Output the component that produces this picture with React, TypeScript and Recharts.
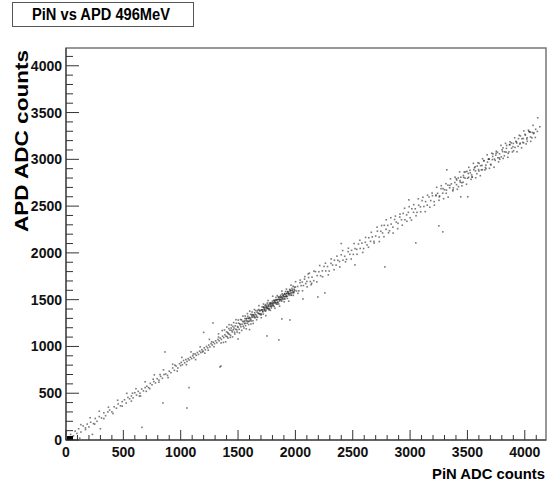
import React from 'react';
import {
  ScatterChart,
  Scatter,
  XAxis,
  YAxis,
  ReferenceArea,
} from 'recharts';

// PiN ADC counts vs APD ADC counts
const lowPoints: [number, number][] = [
  [40, 60], [65, 45], [80, 95], [95, 70], [110, 120], [130, 85], [150, 150], [170, 130],
  [185, 170], [200, 140], [215, 190], [240, 175], [255, 230], [270, 200], [290, 250],
  [310, 235], [330, 290], [345, 260], [365, 300], [380, 320], [400, 300], [420, 355],
  [440, 340], [455, 385], [475, 365], [490, 410], [120, 20], [230, 60], [300, 120],
  [510, 430], [525, 395], [540, 455], [555, 440], [570, 470], [585, 450], [600, 505],
  [615, 480], [630, 520], [645, 500], [660, 545], [675, 525], [690, 560], [705, 575],
  [720, 560], [735, 605], [750, 590], [765, 625], [780, 610], [795, 655], [810, 640],
  [825, 680], [840, 660], [855, 700], [870, 705], [885, 690], [900, 735], [915, 720],
  [930, 770], [945, 745], [960, 790], [975, 770], [990, 815], [1000, 795], [580, 500],
  [700, 520], [820, 700], [950, 800], [640, 470], [760, 650],
  [130, 164], [170, 111], [210, 238], [250, 170], [290, 307], [330, 229], [370, 351],
  [410, 283], [450, 425], [490, 362], [530, 499], [570, 416], [610, 548], [650, 470],
  [690, 622], [730, 549], [770, 696], [810, 618], [850, 750], [890, 667], [930, 809],
  [970, 736],
];

const risePoints: [number, number][] = [
  [1005, 830], [1015, 805], [1025, 850], [1035, 825], [1045, 860], [1055, 840], [1065, 870],
  [1075, 855], [1085, 885], [1095, 870], [1105, 900], [1115, 880], [1125, 920], [1135, 905],
  [1145, 935], [1155, 915], [1165, 950], [1175, 935], [1185, 965], [1195, 950], [1205, 985],
  [1215, 965], [1225, 1000], [1235, 985], [1245, 1015], [1255, 995], [1265, 1030],
  [1275, 1015], [1285, 1045], [1295, 1030], [1305, 1060], [1315, 1040], [1325, 1075],
  [1335, 1060], [1345, 1090], [1355, 1075], [1365, 1110], [1375, 1095], [1385, 1125],
  [1395, 1110], [1110, 920], [1190, 940], [1270, 1050], [1330, 1100], [1240, 960],
  [1010, 883], [1050, 805], [1090, 942], [1130, 859], [1170, 996], [1210, 928],
  [1250, 1075], [1290, 997], [1330, 1134],
];

const densePoints: [number, number][] = [
  [1400, 1155], [1405, 1104], [1410, 1148], [1415, 1137], [1420, 1191], [1425, 1130],
  [1430, 1174], [1435, 1118], [1440, 1197], [1445, 1171], [1450, 1155], [1455, 1214],
  [1460, 1178], [1465, 1197], [1470, 1151], [1475, 1220], [1480, 1184], [1485, 1248],
  [1490, 1177], [1495, 1213], [1500, 1205], [1505, 1249], [1510, 1183], [1515, 1242],
  [1520, 1231], [1525, 1210], [1530, 1284], [1535, 1238], [1540, 1267], [1545, 1216],
  [1550, 1265], [1555, 1244], [1560, 1298], [1565, 1222], [1570, 1276], [1575, 1300],
  [1580, 1249], [1585, 1323], [1590, 1267], [1595, 1299], [1600, 1310], [1605, 1279],
  [1610, 1343], [1615, 1272], [1620, 1316], [1625, 1340], [1630, 1274], [1635, 1333],
  [1640, 1322], [1645, 1361], [1650, 1310], [1655, 1384], [1660, 1333], [1665, 1367],
  [1670, 1311], [1675, 1355], [1680, 1394], [1685, 1348], [1690, 1379], [1695, 1341],
  [1700, 1350], [1705, 1389], [1710, 1423], [1715, 1372], [1720, 1346], [1725, 1420],
  [1730, 1399], [1735, 1438], [1740, 1377], [1745, 1426], [1750, 1410], [1755, 1464],
  [1760, 1403], [1765, 1432], [1770, 1391], [1775, 1465], [1780, 1429], [1785, 1463],
  [1790, 1412], [1795, 1454], [1800, 1485], [1805, 1444], [1810, 1468], [1815, 1427],
  [1820, 1491], [1825, 1470], [1830, 1524], [1835, 1453], [1840, 1497], [1845, 1471],
  [1850, 1530], [1855, 1454], [1860, 1503], [1865, 1532], [1870, 1501], [1875, 1530],
  [1880, 1484], [1885, 1563], [1890, 1502], [1895, 1538], [1900, 1530], [1905, 1564],
  [1910, 1508], [1915, 1587], [1920, 1536], [1925, 1565], [1930, 1514], [1935, 1583],
  [1940, 1567], [1945, 1546], [1950, 1610], [1955, 1569], [1960, 1598], [1965, 1547],
  [1970, 1621], [1975, 1575], [1980, 1644], [1985, 1573], [1990, 1612], [1995, 1599],
  [2000, 1635], [2010, 1593], [2020, 1641], [2030, 1594], [2040, 1682], [2050, 1650],
  [2060, 1688], [2070, 1651], [2080, 1719], [2090, 1672], [2100, 1695],
  [1652, 1342], [1662, 1317], [1672, 1385], [1682, 1353], [1692, 1387], [1702, 1339],
  [1712, 1391], [1722, 1421], [1732, 1383], [1742, 1447], [1752, 1415], [1762, 1447],
  [1772, 1401], [1782, 1453], [1792, 1427], [1802, 1459], [1812, 1495], [1822, 1461],
  [1832, 1497], [1842, 1453], [1852, 1505], [1862, 1485], [1872, 1547], [1882, 1517],
  [1892, 1549], [1902, 1507], [1912, 1555], [1922, 1537], [1932, 1587], [1942, 1563],
  [1952, 1591], [1962, 1551], [1972, 1597], [1982, 1583], [1992, 1633],
];

const coreExtra: [number, number][] = [
  [1556, 1272], [1564, 1248], [1572, 1295], [1580, 1271], [1588, 1301], [1596, 1268],
  [1604, 1304], [1612, 1291], [1620, 1335], [1628, 1313], [1636, 1338], [1644, 1308],
  [1708, 1391], [1716, 1372], [1724, 1414], [1728, 1391], [1736, 1412], [1744, 1390],
  [1748, 1431], [1756, 1410], [1764, 1430], [1768, 1407], [1776, 1450], [1784, 1436],
  [1788, 1467], [1796, 1436], [1804, 1466], [1808, 1437], [1816, 1484], [1824, 1472],
  [1828, 1497], [1836, 1470], [1844, 1500], [1848, 1473], [1856, 1524], [1864, 1498],
  [1868, 1521], [1876, 1498], [1884, 1528], [1888, 1513], [1896, 1550], [1904, 1532],
  [1908, 1563], [1916, 1532], [1924, 1564], [1928, 1537], [1936, 1578], [1944, 1560],
  [1956, 1600], [1964, 1572], [1976, 1604], [1988, 1587],
];

const denseWide: [number, number][] = [
  [1352, 1037], [1362, 1170], [1372, 1043], [1382, 1176], [1392, 1049], [1402, 1207],
  [1412, 1090], [1422, 1233], [1432, 1096], [1442, 1229], [1452, 1102], [1462, 1255],
  [1472, 1133], [1482, 1286], [1492, 1154], [1502, 1282], [1512, 1145], [1522, 1288],
  [1532, 1171], [1542, 1324], [1552, 1197], [1562, 1325], [1572, 1188], [1582, 1351],
  [1592, 1234], [1602, 1377], [1612, 1240], [1622, 1368], [1632, 1246], [1642, 1394],
  [1662, 1285], [1682, 1436], [1702, 1307], [1722, 1453], [1742, 1329], [1762, 1490],
  [1782, 1386], [1802, 1537], [1822, 1408], [1842, 1544], [1862, 1430], [1882, 1591],
  [1902, 1477], [1922, 1613], [1942, 1484], [1962, 1655], [1982, 1546], [2002, 1692],
  [2022, 1568], [2042, 1709], [2062, 1595], [2082, 1746], [2102, 1637], [2122, 1783],
  [2142, 1674],
];

const midPoints: [number, number][] = [
  [2115, 1737], [2130, 1694], [2145, 1741], [2160, 1703], [2175, 1800], [2190, 1757],
  [2205, 1799], [2220, 1756], [2235, 1808], [2250, 1855], [2265, 1807], [2280, 1854],
  [2295, 1806], [2310, 1888], [2325, 1870], [2340, 1922], [2355, 1869], [2370, 1921],
  [2385, 1908], [2400, 1980], [2415, 1922], [2430, 1964], [2445, 1931], [2460, 2013],
  [2475, 1985], [2490, 2027], [2505, 1984], [2520, 2046], [2535, 2038], [2550, 2095],
  [2565, 2047], [2580, 2104], [2595, 2046], [2610, 2113], [2625, 2085], [2640, 2162],
  [2655, 2124], [2670, 2171], [2685, 2123], [2700, 2180],
  [2112, 1775], [2137, 1660], [2162, 1805], [2187, 1690], [2212, 1865], [2237, 1745],
  [2262, 1890], [2287, 1765], [2312, 1935], [2337, 1820], [2362, 1965], [2387, 1850],
  [2412, 2025], [2437, 1905], [2462, 2050], [2487, 1935], [2512, 2100], [2537, 1985],
  [2562, 2135], [2587, 2005], [2612, 2165], [2637, 2060], [2662, 2220], [2687, 2105],
];

const highPoints: [number, number][] = [
  [2715, 2232], [2730, 2169], [2745, 2231], [2760, 2213], [2775, 2295], [2790, 2252],
  [2805, 2294], [2820, 2236], [2835, 2308], [2850, 2275], [2865, 2357], [2880, 2329],
  [2895, 2316], [2910, 2383], [2925, 2355], [2940, 2422], [2955, 2354], [2970, 2406],
  [2985, 2433], [3000, 2375], [3015, 2472], [3030, 2434], [3045, 2471], [3060, 2433],
  [3075, 2510], [3090, 2492], [3105, 2559], [3120, 2496], [3135, 2548], [3150, 2510],
  [3165, 2597], [3180, 2559], [3195, 2611], [3210, 2548], [3225, 2610], [3240, 2637],
  [3255, 2599], [3270, 2686], [3285, 2638], [3300, 2675], [3315, 2637], [3330, 2724],
  [3345, 2696], [3360, 2738], [3375, 2675], [3390, 2752], [3405, 2729], [3420, 2801],
  [3435, 2773], [3450, 2750], [3465, 2827], [3480, 2799], [3495, 2871], [3510, 2808],
  [3525, 2855], [3540, 2812], [3555, 2889], [3570, 2876], [3585, 2928], [3600, 2875],
  [3615, 2932], [3630, 2889], [3645, 2986], [3660, 2938], [3675, 2970], [3690, 3002],
  [3705, 2939], [3720, 3031], [3735, 3003], [3750, 3065], [3765, 3017], [3780, 3059],
  [3795, 3026], [3810, 3123], [3825, 3080], [3840, 3117], [3855, 3064], [3870, 3156],
  [3885, 3118], [3900, 3170], [3915, 3127], [3930, 3174], [3945, 3221], [3960, 3173],
  [3975, 3220], [3990, 3177], [4005, 3259], [4020, 3231], [4035, 3298], [4050, 3240],
  [4065, 3287], [4080, 3284], [4095, 3321], [4110, 3298],
  [3507, 2849], [3537, 2833], [3567, 2921], [3597, 2891], [3627, 2935], [3657, 2913],
  [3687, 3003], [3717, 2997], [3747, 3045], [3777, 3015], [3807, 3083], [3837, 3077],
  [3867, 3157], [3897, 3135], [3927, 3185], [3957, 3163], [3987, 3223], [4017, 3217],
  [4047, 3291], [4077, 3275], [3227, 2619], [3257, 2609], [3287, 2687], [3317, 2671],
  [3347, 2721], [3377, 2695], [3407, 2779], [3437, 2757], [3467, 2807],
];

const highWide: [number, number][] = [
  [2712, 2275], [2732, 2121], [2752, 2292], [2772, 2173], [2792, 2354], [2812, 2215],
  [2832, 2376], [2852, 2212], [2872, 2393], [2892, 2259], [2912, 2415], [2932, 2296],
  [2952, 2477], [2972, 2338], [2992, 2494], [3012, 2350], [3032, 2516], [3052, 2397],
  [3072, 2578], [3092, 2439], [3112, 2595], [3132, 2441], [3152, 2617], [3172, 2488],
  [3192, 2639], [3212, 2510], [3232, 2701], [3252, 2562], [3272, 2718], [3292, 2579],
  [3312, 2740], [3332, 2596], [3352, 2792], [3372, 2663], [3392, 2809], [3412, 2680],
  [3432, 2866], [3452, 2717], [3472, 2863], [3492, 2734], [3512, 2915], [3532, 2786],
  [3552, 2957], [3572, 2803], [3592, 2964], [3612, 2825], [3632, 3006], [3652, 2887],
  [3672, 3048], [3692, 2904], [3712, 3065], [3732, 2916], [3752, 3087], [3772, 2973],
  [3792, 3149], [3812, 3010], [3832, 3171], [3852, 3022], [3872, 3188], [3892, 3079],
  [3912, 3230], [3932, 3081], [3952, 3257], [3972, 3123], [3992, 3304], [4012, 3165],
  [4032, 3311], [4052, 3192], [4072, 3363], [4092, 3234],
  [3402, 2792], [3422, 2708], [3442, 2809], [3462, 2755], [3482, 2866], [3502, 2797],
  [3522, 2883], [3542, 2809], [3562, 2910], [3582, 2846], [3602, 2957], [3622, 2888],
  [3642, 2984], [3662, 2900], [3682, 3001], [3702, 2947], [3722, 3058], [3742, 2989],
  [3762, 3075], [3782, 3001], [3802, 3102], [3822, 3038], [3842, 3149], [3862, 3080],
  [3882, 3176], [3902, 3092], [3922, 3193], [3942, 3139], [3962, 3250], [3982, 3181],
  [4002, 3267], [4022, 3193], [4042, 3294], [4062, 3230],
];

const outliers: [number, number][] = [
  [1054, 342], [1072, 560], [863, 941], [662, 135], [1342, 781], [1281, 1251], [1752, 1112],
  [1856, 1070], [1351, 790], [1882, 1294], [1952, 1283], [2257, 1572], [2196, 1529],
  [2780, 1850], [2519, 1872], [2066, 1508], [3320, 2888], [2989, 2567], [3251, 2289],
  [3285, 2225], [3050, 2107], [3503, 2599], [3442, 2599], [4131, 3348], [4113, 3444],
  [845, 396], [1200, 1150], [1600, 1180], [2400, 2100], [1500, 1080],
];

// the overflow bin at the origin
const originBin: [number, number][] = [[0, 0]];

const majorTicks = [0, 500, 1000, 1500, 2000, 2500, 3000, 3500, 4000];
const minorTicks = Array.from({ length: 42 }, (_, i) => i * 100);

const X_MAX = 4185;
const Y_MAX = 4190;

const toData = (pts: [number, number][]) => pts.map(([pin, apd]) => ({ pin, apd }));

const events = toData([
  ...lowPoints,
  ...risePoints,
  ...densePoints,
  ...coreExtra,
  ...denseWide,
  ...midPoints,
  ...highPoints,
  ...highWide,
  ...outliers,
]);

const FONT = '"Liberation Sans", Arial, Helvetica, sans-serif';

const Dot = (props: any) => {
  const { cx, cy } = props;
  return <rect x={cx - 0.8} y={cy - 0.8} width={1.6} height={1.6} fill="#222" fillOpacity={0.6} />;
};

const BinSquare = (props: any) => {
  const { cx, cy } = props;
  return <rect x={cx + 1} y={cy - 4} width={6} height={4} fill="#000" />;
};

const XTick = (props: any) => {
  const { x, y, payload } = props;
  const major = majorTicks.includes(payload.value);
  return (
    <g>
      <line x1={x} y1={y} x2={x} y2={y - (major ? 10 : 5)} stroke="#333" />
      {major && (
        <text x={x} y={y + 17} textAnchor="middle" fontFamily={FONT} fontWeight="bold" fontSize={14} fill="#111">
          {payload.value}
        </text>
      )}
    </g>
  );
};

const YTick = (props: any) => {
  const { x, y, payload } = props;
  const major = majorTicks.includes(payload.value);
  return (
    <g>
      <line x1={x} y1={y} x2={x + (major ? 13 : 7)} y2={y} stroke="#333" />
      {major && (
        <text x={x - 4} y={y + 5} textAnchor="end" fontFamily={FONT} fontWeight="bold" fontSize={14} fill="#111">
          {payload.value}
        </text>
      )}
    </g>
  );
};

export default function App() {
  return (
    <div style={{ position: 'absolute', left: 0, top: 0, width: 547, height: 485, background: '#fff' }}>
      <ScatterChart width={547} height={485} margin={{ top: 48, right: 1, bottom: 44, left: 65 }}>
        <XAxis
          type="number"
          dataKey="pin"
          domain={[0, X_MAX]}
          ticks={minorTicks}
          interval={0}
          height={1}
          tickSize={0}
          tickMargin={0}
          tick={XTick}
          axisLine={{ stroke: '#333' }}
          allowDataOverflow
        />
        <YAxis
          type="number"
          dataKey="apd"
          domain={[0, Y_MAX]}
          ticks={minorTicks}
          interval={0}
          width={1}
          tickSize={0}
          tickMargin={0}
          tick={YTick}
          axisLine={{ stroke: '#333' }}
          allowDataOverflow
        />
        <ReferenceArea x1={0} x2={X_MAX} y1={0} y2={Y_MAX} fill="none" stroke="#777" strokeWidth={1.5} />
        <Scatter data={events} shape={Dot} isAnimationActive={false} />
        <Scatter data={toData(originBin)} shape={BinSquare} isAnimationActive={false} />
      </ScatterChart>
      <svg width={547} height={485} style={{ position: 'absolute', left: 0, top: 0, pointerEvents: 'none' }}>
        <rect x={12.5} y={2.5} width={181} height={24} fill="#fff" stroke="#555" />
        <text x={101} y={20} textAnchor="middle" fontFamily={FONT} fontWeight="bold" fontSize={16} textLength={138} lengthAdjust="spacingAndGlyphs" fill="#000">
          PiN vs APD 496MeV
        </text>
        <text transform="translate(28, 50) rotate(-90)" textAnchor="end" fontFamily={FONT} fontWeight="bold" fontSize={18} textLength={182} lengthAdjust="spacingAndGlyphs" fill="#000">
          APD ADC counts
        </text>
        <text x={545} y={479} textAnchor="end" fontFamily={FONT} fontWeight="bold" fontSize={15} textLength={113} lengthAdjust="spacingAndGlyphs" fill="#000">
          PiN ADC counts
        </text>
      </svg>
    </div>
  );
}
